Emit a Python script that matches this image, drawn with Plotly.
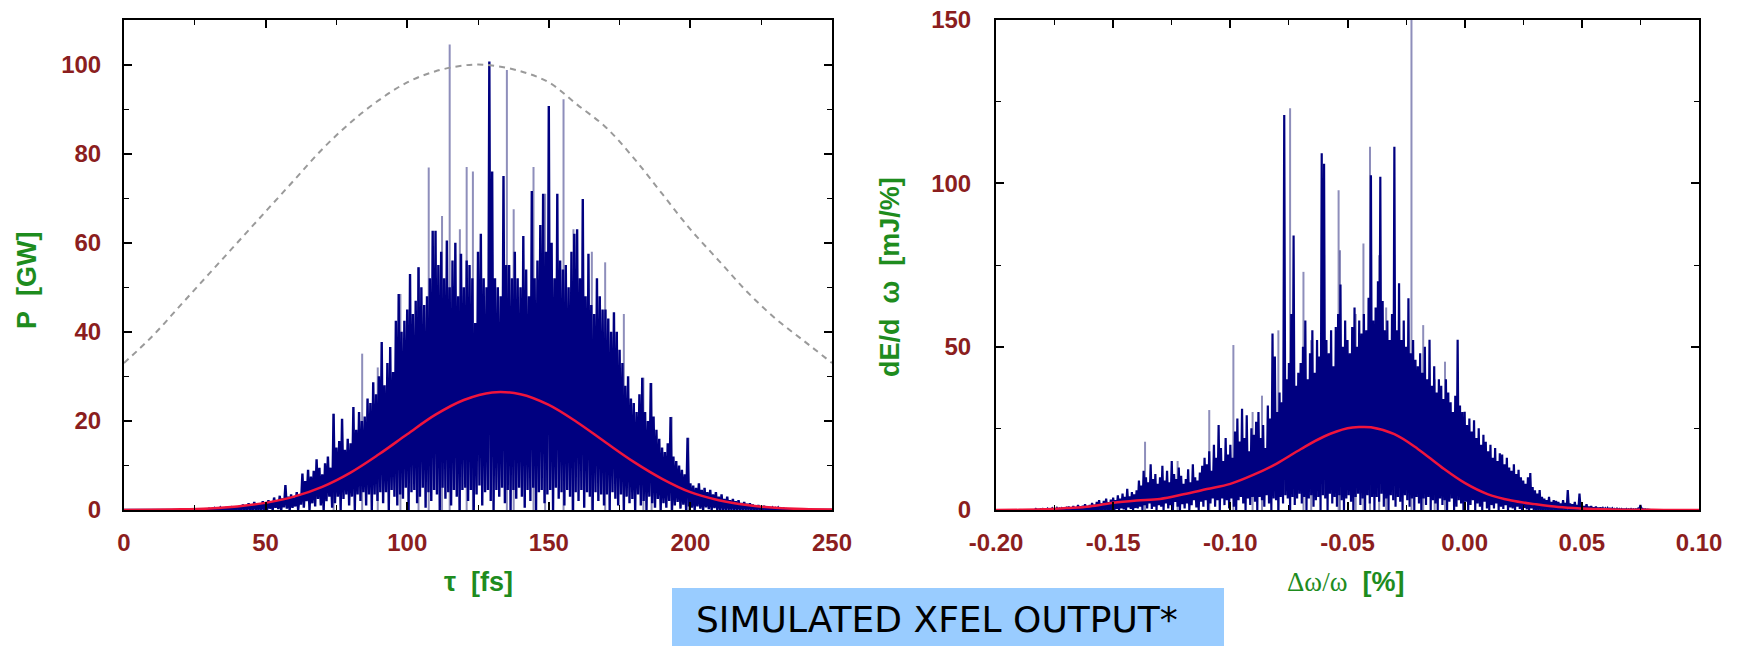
import plotly.graph_objects as go

# ---------------- LEFT PANEL DATA (power vs time) ----------------
tau_start = 30.0
tau_step = 1.0
# peak (upper) values of the fast-oscillating power trace, tau = 30 ... 235 fs
p_hi = [
    0.3, 0.2, 0.4, 0.3, 0.5, 0.3, 0.6, 0.4, 0.5, 0.7,
    0.8, 0.6, 1.2, 0.9, 1.5, 1.0, 1.8, 1.2, 1.4, 2.0,
    1.6, 2.2, 1.8, 2.8, 2.0, 3.2, 2.6, 5.6, 3.0, 3.5,
    2.8, 4.0, 3.2, 8.2, 6.5, 9.0, 7.5, 8.8, 11.4, 9.5,
    8.0, 10.5, 12.0, 9.5, 21.6, 14.0, 15.5, 20.5, 13.5, 16.0,
    15.0, 23.1, 18.0, 22.0, 20.0, 21.0, 25.0, 24.0, 28.7, 26.0,
    30.0, 37.7, 28.0, 33.0, 36.6, 31.0, 42.5, 48.5, 40.0, 42.5,
    45.0, 53.0, 44.0, 47.0, 54.5, 50.0, 46.0, 48.0, 52.0, 62.7,
    62.7, 55.0, 58.0, 52.0, 60.5, 50.0, 56.0, 60.0, 48.0, 57.5,
    50.0, 56.0, 55.0, 52.0, 42.0, 58.0, 62.0, 52.0, 50.0, 100.7,
    76.0, 52.0, 50.0, 48.0, 75.0, 55.0, 55.0, 52.0, 58.0, 52.0,
    50.0, 61.5, 54.0, 48.0, 71.6, 52.0, 56.0, 64.0, 71.0, 58.0,
    90.7, 60.0, 52.0, 71.0, 56.0, 54.0, 55.0, 50.0, 58.0, 62.0,
    63.0, 52.0, 69.8, 48.0, 57.5, 46.0, 44.0, 52.0, 48.0, 45.0,
    45.0, 43.0, 40.0, 44.4, 40.0, 36.0, 33.0, 27.9, 30.0, 25.0,
    24.0, 22.0, 26.0, 29.7, 22.0, 20.0, 28.5, 21.0, 18.0, 16.0,
    14.0, 13.0, 15.0, 20.9, 12.0, 11.0, 10.0, 9.0, 8.0, 16.2,
    6.0, 5.5, 5.0, 6.0, 4.5, 5.0, 4.0, 4.5, 3.5, 4.0,
    3.0, 3.5, 2.5, 3.0, 2.2, 2.5, 2.0, 2.2, 1.6, 1.8,
    1.4, 1.5, 1.2, 1.0, 1.1, 0.8, 0.9, 0.7, 0.6, 0.5,
    0.4, 0.5, 0.3, 0.3, 0.2, 0.1,
]
# trough (lower) values, half a step after each peak
p_lo = [
    0, 0, 0, 0, 0, 0, 0, 0, 0, 0,
    0, 0, 0, 0, 0, 0, 0, 0, 0, 0,
    0, 0.3, 0, 0.5, 0.2, 0, 0.6, 0.3, 0, 0.5,
    0.8, 0, 1.2, 0.5, 2.0, 0, 1.5, 0.8, 2.5, 1.0,
    0, 2.0, 3.0, 0.5, 1.5, 3.0, 0, 2.5, 3.5, 1.0,
    3.0, 0, 3.5, 2.0, 4.0, 1.0, 3.5, 0, 3.5, 2.0,
    4.0, 1.5, 4.0, 0, 4.5, 3.0, 1.0, 3.5, 2.5, 5.0,
    0, 4.0, 4.5, 1.5, 3.0, 5.0, 0.5, 4.0, 2.0, 4.5,
    3.5, 0, 5.0, 2.5, 4.0, 1.0, 4.5, 3.0, 0, 4.5,
    5.0, 2.0, 4.5, 0, 3.5, 5.5, 1.0, 4.0, 4.5, 2.0,
    0, 4.5, 3.0, 5.0, 1.5, 4.5, 0, 4.5, 2.5, 5.0,
    3.0, 0.5, 4.5, 2.0, 5.0, 0, 4.0, 4.5, 1.5, 3.5,
    4.5, 0, 5.0, 2.5, 4.0, 1.0, 4.5, 3.0, 0, 4.0,
    2.0, 4.5, 0.5, 4.0, 3.0, 0, 4.0, 2.0, 3.5, 1.0,
    3.5, 0, 4.0, 2.5, 1.0, 3.5, 0, 3.0, 1.5, 2.5,
    0, 3.5, 1.0, 2.0, 0, 3.0, 1.5, 0.5, 2.5, 0,
    1.5, 0.5, 2.0, 0, 1.0, 1.8, 0.3, 1.2, 0, 0.8,
    0.5, 0, 0.8, 0.3, 0, 0.6, 0.2, 0, 0.4, 0,
    0, 0, 0, 0, 0, 0, 0, 0, 0, 0,
    0, 0, 0, 0, 0, 0, 0, 0, 0, 0,
    0, 0, 0, 0, 0, 0,
]
# isolated thin (lighter) spikes
spk_tau = [74.0, 84.1, 89.6, 97.6, 104.0, 107.6, 112.3, 115.0, 118.6, 121.0,
           123.2, 135.2, 137.6, 144.6, 148.7, 155.2, 158.7, 165.2, 169.9, 176.5,
           183.4, 186.3, 193.4, 199.3]
spk_p = [21.6, 35.1, 32.0, 48.5, 54.5, 76.9, 66.0, 104.5, 63.0, 77.0,
         76.0, 98.8, 67.5, 77.0, 71.0, 92.2, 63.0, 58.0, 55.6, 44.0,
         29.7, 28.5, 20.9, 16.2]
# smooth average (red) and field profile (grey dashed)
avg_tau = [0, 20, 30, 40, 50, 60, 70, 80, 90, 100, 110, 120, 130, 140, 150,
           160, 170, 180, 190, 200, 210, 220, 230, 240, 250]
avg_p = [0.0, 0.15, 0.35, 0.8, 1.6, 3.0, 5.2, 8.4, 12.5, 17.0, 21.4, 24.7, 26.4,
         26.0, 23.6, 19.7, 15.2, 10.8, 7.0, 4.0, 2.2, 1.1, 0.5, 0.2, 0.1]
prof_tau = [0, 10, 20, 30, 40, 50, 60, 70, 80, 90, 100, 110, 120, 125, 130,
            140, 150, 160, 170, 180, 190, 200, 210, 220, 230, 240, 250]
prof_p = [33, 39, 46, 53, 60, 67, 74, 81, 87, 92, 96, 98.5, 99.8, 100, 99.8,
          98.5, 96, 91, 86, 79, 71, 63, 56, 49, 43, 38, 33]

# ---------------- RIGHT PANEL DATA (spectrum) ----------------
w_start = -0.190
w_step = 0.001
e_hi = [
    0.1, 0.0, 0.2, 0.1, 0.0, 0.2, 0.1, 0.3, 0.1, 0.2,
    0.3, 0.2, 0.4, 0.2, 0.5, 0.3, 0.6, 0.4, 0.5, 0.8,
    0.6, 1.0, 0.7, 1.2, 0.8, 1.5, 1.0, 1.3, 1.8, 1.2,
    1.5, 2.2, 1.6, 2.5, 3.0, 2.0, 2.8, 3.5, 2.4, 3.2,
    3.8, 3.0, 4.5, 3.5, 5.0, 4.0, 6.5, 4.2, 5.5, 4.8,
    6.0, 9.0, 7.5, 12.0, 10.0, 8.5, 14.0, 9.5, 11.0, 8.0,
    10.0, 13.5, 9.0, 12.0, 8.5, 15.0, 11.0, 9.5, 13.0, 10.5,
    8.0, 9.5, 12.5, 8.5, 14.0, 10.0, 9.0, 11.5, 13.5, 16.0,
    14.0, 18.0, 12.0, 20.0, 16.0, 26.0, 19.0, 15.0, 22.0, 17.0,
    20.0, 16.0, 24.0, 28.0, 21.0, 31.0, 22.0, 29.0, 18.0, 25.0,
    23.0, 27.0, 30.0, 22.0, 26.0, 19.0, 32.0, 28.0, 54.0, 47.0,
    30.0, 36.0, 33.0, 120.9, 40.0, 45.0, 60.0, 84.0, 38.0, 42.0,
    45.0, 50.0, 58.0, 40.0, 48.0, 55.0, 42.0, 52.0, 47.0, 109.2,
    106.0, 52.0, 48.0, 55.0, 44.0, 56.0, 60.0, 69.0, 50.0, 58.0,
    52.0, 48.0, 56.0, 62.0, 50.0, 58.0, 54.0, 60.0, 55.0, 65.0,
    102.5, 58.0, 62.0, 70.0, 102.0, 64.0, 55.0, 58.0, 52.0, 60.0,
    111.2, 55.0, 69.4, 52.0, 58.0, 50.0, 64.8, 48.0, 52.0, 46.0,
    44.0, 48.0, 42.0, 50.0, 40.0, 52.1, 38.0, 44.0, 36.0, 40.0,
    38.0, 34.0, 40.0, 36.0, 33.0, 30.0, 35.0, 52.1, 32.0, 30.0,
    30.1, 26.0, 28.0, 24.0, 27.5, 22.0, 25.0, 20.0, 23.0, 20.9,
    18.0, 20.0, 16.0, 19.0, 15.0, 17.4, 17.0, 14.0, 16.0, 13.0,
    12.0, 14.0, 11.0, 12.3, 10.0, 9.0, 8.0, 10.0, 11.3, 7.0,
    6.0, 5.0, 6.1, 4.0, 3.5, 3.0, 4.0, 2.5, 3.0, 2.8,
    2.5, 2.0, 3.0, 2.2, 6.1, 2.0, 1.8, 2.5, 1.5, 5.0,
    1.5, 1.2, 1.8, 1.0, 1.2, 0.8, 1.0, 0.7, 0.8, 0.6,
    0.5, 0.6, 0.4, 0.5, 0.3, 0.4, 0.3, 0.3, 0.2, 0.3,
    0.2, 0.3, 0.2, 0.2, 0.4, 1.5, 0.3, 0.2, 0.1, 0.1,
    0.0,
]
e_lo = [
    0, 0, 0, 0, 0, 0, 0, 0, 0, 0,
    0, 0, 0, 0, 0, 0, 0, 0, 0, 0,
    0, 0, 0, 0, 0, 0, 0, 0, 0, 0,
    0, 0, 0, 0, 0, 0, 0, 0, 0, 0,
    0, 0.3, 0, 0.5, 0.2, 0, 0.8, 0.3, 0, 0.6,
    0.5, 1.0, 0, 1.5, 0.5, 2.0, 0.3, 1.0, 0, 1.5,
    1.0, 0, 2.0, 0.5, 1.5, 0, 2.5, 1.0, 0, 1.8,
    0.5, 2.0, 0, 1.5, 3.0, 0.8, 0, 2.5, 1.0, 3.0,
    0, 2.0, 3.5, 1.0, 3.0, 0, 3.5, 1.5, 3.0, 0.5,
    3.5, 1.0, 0, 3.0, 4.0, 2.0, 0, 3.5, 1.5, 4.0,
    2.5, 0, 4.0, 3.0, 1.0, 4.5, 2.0, 0, 3.5, 3.0,
    0, 4.0, 2.0, 4.5, 3.5, 0, 4.0, 1.5, 3.5, 5.0,
    2.0, 4.0, 0, 3.5, 4.5, 1.0, 3.0, 4.0, 0, 4.5,
    3.5, 0, 5.0, 2.0, 4.0, 1.0, 4.5, 3.0, 0, 3.5,
    4.5, 2.5, 0, 4.0, 5.0, 1.5, 3.5, 0, 4.5, 2.0,
    4.0, 0, 4.0, 2.5, 5.0, 1.0, 3.5, 0, 4.5, 3.0,
    1.0, 4.0, 2.5, 0, 4.5, 3.0, 1.0, 3.5, 0, 4.0,
    2.0, 0, 3.5, 1.5, 4.0, 0, 3.0, 2.0, 0, 3.5,
    1.5, 3.0, 0, 2.5, 3.5, 0, 1.0, 3.0, 2.0, 0,
    2.5, 0, 1.5, 3.0, 0, 2.0, 1.0, 0, 2.5, 0.5,
    0, 1.5, 0.5, 2.0, 0, 1.0, 0.3, 1.5, 0, 0.8,
    0.5, 0, 1.0, 0.3, 0, 0.6, 0.2, 0, 0.5, 0,
    0, 0, 0, 0, 0, 0, 0, 0, 0, 0,
    0, 0, 0, 0, 0, 0, 0, 0, 0, 0,
    0, 0, 0, 0, 0, 0, 0, 0, 0, 0,
    0, 0, 0, 0, 0, 0, 0, 0, 0, 0,
    0, 0, 0, 0, 0, 0, 0, 0, 0, 0,
    0,
]
spk_w = [-0.1364, -0.1225, -0.109, -0.0987, -0.0905, -0.0865, -0.0795, -0.0745,
         -0.0688, -0.0655, -0.0538, -0.0532, -0.0465, -0.0432, -0.0404, -0.0365,
         -0.0335, -0.0227, -0.0177, -0.0128, -0.0084]
spk_e = [20.9, 15.0, 30.6, 50.5, 30.0, 35.0, 55.0, 123.0,
         72.9, 52.0, 97.9, 79.5, 60.0, 81.6, 111.2, 78.0,
         62.0, 160.0, 56.6, 40.0, 45.4]
avg_w = [-0.20, -0.19, -0.18, -0.17, -0.16, -0.15, -0.14, -0.13, -0.12, -0.11,
         -0.10, -0.09, -0.08, -0.07, -0.06, -0.05, -0.045, -0.04, -0.03, -0.02,
         -0.01, 0.00, 0.01, 0.02, 0.03, 0.04, 0.05, 0.06, 0.07, 0.08, 0.09, 0.10]
avg_e = [0.0, 0.05, 0.2, 0.6, 1.1, 2.2, 2.9, 3.4, 4.8, 6.4,
         8.0, 10.8, 14.3, 18.6, 22.5, 25.0, 25.4, 25.3, 23.2, 18.7,
         13.2, 8.3, 4.8, 2.9, 1.8, 0.9, 0.45, 0.2, 0.1, 0.05, 0.02, 0.01]

# ---------------- tick labels ----------------
lx_ticks = [0, 50, 100, 150, 200, 250]
lx_text = ["0", "50", "100", "150", "200", "250"]
ly_ticks = [0, 20, 40, 60, 80, 100]
ly_text = ["0", "20", "40", "60", "80", "100"]
rx_ticks = [-0.20, -0.15, -0.10, -0.05, 0.00, 0.05, 0.10]
rx_text = ["-0.20", "-0.15", "-0.10", "-0.05", "0.00", "0.05", "0.10"]
ry_ticks = [0, 50, 100, 150]
ry_text = ["0", "50", "100", "150"]

NAVY = "#000080"
LIGHT = "rgba(30,30,120,0.5)"
RED = "#f0143c"
GREY = "#9a9a9a"
TICKRED = "#8b1e1e"
GREEN = "#1e8c1e"

W, H = 1745, 646


def zigzag(x0, step, hi, lo):
    xs, ys = [x0 - step], [0.0]
    for i, (h, l) in enumerate(zip(hi, lo)):
        x = x0 + i * step
        xs += [x, x + step / 2]
        ys += [h, l]
    return xs, ys


def spikes(xv, yv):
    xs, ys = [], []
    for x, y in zip(xv, yv):
        xs += [x, x, None]
        ys += [0, y, None]
    return xs, ys


fig = go.Figure()

# left panel
sx, sy = spikes(spk_tau, spk_p)
fig.add_trace(go.Scatter(x=sx, y=sy, mode="lines", line=dict(color=LIGHT, width=2),
                         xaxis="x", yaxis="y", hoverinfo="skip"))
zx, zy = zigzag(tau_start, tau_step, p_hi, p_lo)
fig.add_trace(go.Scatter(x=[0] + zx + [250], y=[0] + zy + [0], mode="lines",
                         line=dict(color=NAVY, width=2.4), xaxis="x", yaxis="y"))
fig.add_trace(go.Scatter(x=prof_tau, y=prof_p, mode="lines", line_shape="spline",
                         line=dict(color=GREY, width=2, dash="6px,5px"), xaxis="x", yaxis="y"))
fig.add_trace(go.Scatter(x=avg_tau, y=avg_p, mode="lines", line_shape="spline",
                         line=dict(color=RED, width=2.5), xaxis="x", yaxis="y"))

# right panel
sx, sy = spikes(spk_w, spk_e)
fig.add_trace(go.Scatter(x=sx, y=sy, mode="lines", line=dict(color=LIGHT, width=2),
                         xaxis="x2", yaxis="y2", hoverinfo="skip"))
zx, zy = zigzag(w_start, w_step, e_hi, e_lo)
fig.add_trace(go.Scatter(x=[-0.2] + zx + [0.1], y=[0] + zy + [0], mode="lines",
                         line=dict(color=NAVY, width=2.2), xaxis="x2", yaxis="y2"))
fig.add_trace(go.Scatter(x=avg_w, y=avg_e, mode="lines", line_shape="spline",
                         line=dict(color=RED, width=2.5), xaxis="x2", yaxis="y2"))

tickfont = dict(family="Liberation Sans, Arial, sans-serif", size=24, color=TICKRED, weight="bold")


def axis(domain, rng, tv, tt, minor_dtick, tick0, anchor, standoff):
    return dict(domain=domain, range=rng, tickmode="array", tickvals=tv, ticktext=tt,
                ticks="inside", ticklen=8, tickwidth=1.5, tickcolor="black",
                showline=True, linewidth=2, linecolor="black", mirror="allticks",
                showgrid=False, zeroline=False, tickfont=tickfont, anchor=anchor,
                ticklabelstandoff=standoff, automargin=False,
                minor=dict(ticks="inside", ticklen=5, tickwidth=1.2, tickcolor="black",
                           dtick=minor_dtick, tick0=tick0, showgrid=False))


ydom = [(H - 510) / H, (H - 20) / H]
fig.update_layout(
    width=W, height=H, margin=dict(l=0, r=0, t=0, b=0, autoexpand=False),
    paper_bgcolor="white", plot_bgcolor="white", showlegend=False,
    xaxis=axis([124 / W, 832 / W], [0, 250], lx_ticks, lx_text, 25, 0, "y", 10),
    yaxis=axis(ydom, [0, 110], ly_ticks, ly_text, 10, 0, "x", 16),
    xaxis2=axis([996 / W, 1699 / W], [-0.2, 0.1], rx_ticks, rx_text, 0.025, -0.2, "y2", 10),
    yaxis2=axis(ydom, [0, 150], ry_ticks, ry_text, 25, 0, "x2", 18),
)

tfont = dict(family="Liberation Sans, Arial, sans-serif", size=27, color=GREEN, weight="bold")
ann = [
    dict(text="P\u00a0\u00a0[GW]", x=27 / W, y=1 - 281 / H, textangle=-90, font=tfont),
    dict(text="dE/d\u00a0\u00a0ω\u00a0\u00a0[mJ/%]", x=890 / W, y=1 - 277 / H, textangle=-90, font=tfont),
    dict(text="τ\u00a0\u00a0[fs]", x=478 / W, y=1 - 582 / H, font=tfont),
    dict(text="<span style='font-family:Liberation Serif;font-weight:normal'>Δω/ω</span>\u00a0\u00a0[%]",
         x=1345 / W, y=1 - 582 / H, font=tfont),
    dict(text="SIMULATED XFEL OUTPUT*", x=694 / W, y=1 - 619 / H, xanchor="left",
         font=dict(family="DejaVu Sans", size=36, color="black")),
]
for a in ann:
    a.update(xref="paper", yref="paper", showarrow=False)
    a.setdefault("xanchor", "center")
    a.setdefault("yanchor", "middle")
fig.update_layout(annotations=ann)

fig.add_shape(type="rect", xref="paper", yref="paper", x0=672 / W, x1=1224 / W,
              y0=0, y1=1 - 588 / H, fillcolor="#99ccff", line=dict(width=0), layer="below")

fig.write_html("out.html")
